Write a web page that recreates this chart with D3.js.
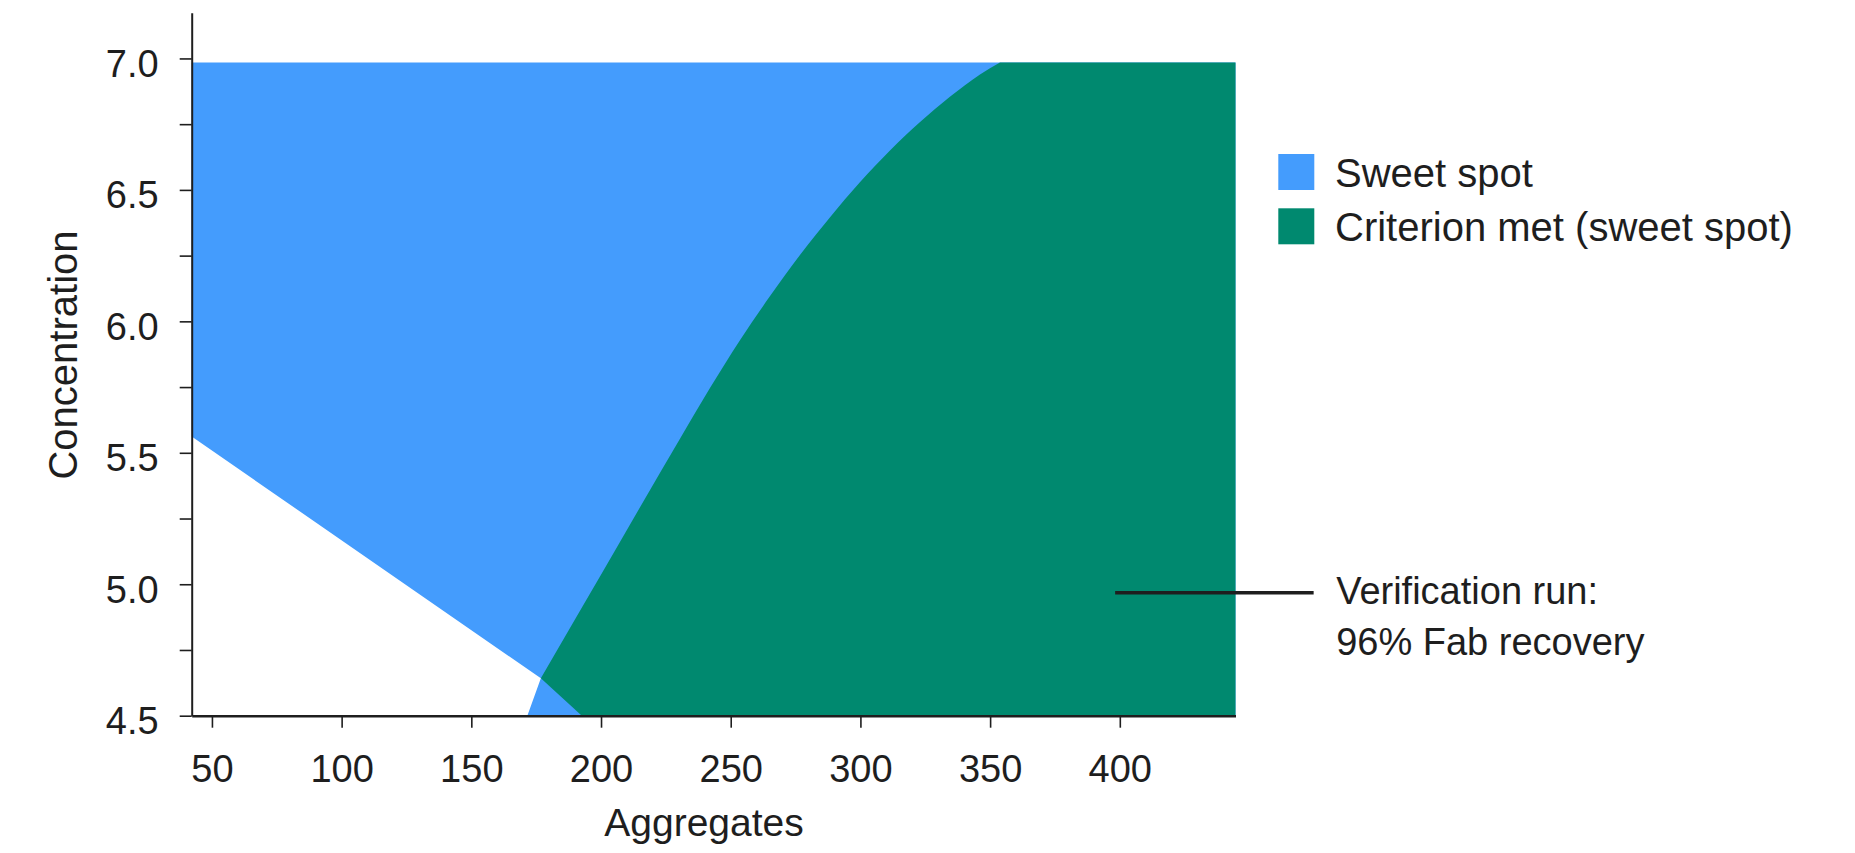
<!DOCTYPE html>
<html>
<head>
<meta charset="utf-8">
<script src="https://cdn.jsdelivr.net/npm/d3@7"></script>
<style>
  html, body { margin: 0; padding: 0; background: #fff; }
  svg { display: block; }
  text { font-family: "Liberation Sans", Arial, sans-serif; fill: #1e1e1e; }
</style>
</head>
<body>
<svg id="chart" width="1855" height="853"></svg>
<script>
// ---- data ----
const aggDomain = [42.2, 444.6];
const concDomain = [4.5, 7.174];
const xTickValues = [50, 100, 150, 200, 250, 300, 350, 400];
const yTickValues = [4.5, 4.75, 5.0, 5.25, 5.5, 5.75, 6.0, 6.25, 6.5, 6.75, 7.0];
const yLabelValues = [4.5, 5.0, 5.5, 6.0, 6.5, 7.0];

// Sweet spot region outline (Aggregates, Concentration)
const sweetAgg  = [42.2, 444.6, 444.6, 171.6, 176.8, 42.2];
const sweetConc = [6.985, 6.985, 4.5, 4.5, 4.642, 5.562];

// Criterion-met boundary curve (from lower kink to top edge)
const critCurveAgg  = [176.8, 191.9, 207.3, 222.7, 230.5, 242.0, 253.5, 265.1, 276.7, 288.3, 299.8, 311.4, 323.0, 334.5, 346.1, 353.8];
const critCurveConc = [4.642, 4.899, 5.161, 5.423, 5.554, 5.746, 5.927, 6.095, 6.252, 6.396, 6.529, 6.650, 6.758, 6.854, 6.939, 6.985];
// remaining corners of criterion region
const critCornerAgg  = [444.6, 444.6, 192.6];
const critCornerConc = [6.985, 4.5, 4.5];

const legendLabels = ["Sweet spot", "Criterion met (sweet spot)"];
const legendColors = ["#449cfd", "#00896f"];

const annotationAgg = 398.2;
const annotationConc = 4.968;
const annotationLines = ["Verification run:", "96% Fab recovery"];

// ---- layout ----
const svg = d3.select("#chart");
const plotL = 191.7, plotR = 1235.5, plotT = 12.7, plotB = 715.7;

const x = d3.scaleLinear().domain(aggDomain).range([plotL, plotR]);
const y = d3.scaleLinear().domain(concDomain).range([plotB, plotT]);

// Regions
const sweetPts = sweetAgg.map((a, i) => [x(a), y(sweetConc[i])]);
svg.append("path")
  .attr("d", d3.line()(sweetPts) + "Z")
  .attr("fill", legendColors[0]);

const curvePts = critCurveAgg.map((a, i) => [x(a), y(critCurveConc[i])]);
const cornerPts = critCornerAgg.map((a, i) => [x(a), y(critCornerConc[i])]);
const curveD = d3.line().curve(d3.curveMonotoneX)(curvePts);
const cornerD = cornerPts.map(p => "L" + p[0] + "," + p[1]).join("");
svg.append("path")
  .attr("d", curveD + cornerD + "Z")
  .attr("fill", legendColors[1]);

// Axes
const axisColor = "#1e1e1e";
const yAxis = d3.axisLeft(y)
  .tickValues(yTickValues)
  .tickSize(12)
  .tickSizeOuter(0)
  .tickPadding(21)
  .tickFormat(d => yLabelValues.some(v => Math.abs(v - d) < 1e-9) ? d3.format(".1f")(d) : "");
const gy = svg.append("g").attr("transform", `translate(${plotL},0)`).call(yAxis);
gy.select(".domain").attr("stroke", axisColor).attr("stroke-width", 2);
gy.selectAll(".tick line").attr("stroke", axisColor).attr("stroke-width", 1.6);
gy.selectAll(".tick text")
  .attr("dy", null)
  .attr("y", 18)
  .style("font-size", "38px").style("font-family", "Liberation Sans, Arial, sans-serif")
  .attr("fill", "#1e1e1e");

const xAxis = d3.axisBottom(x)
  .tickValues(xTickValues)
  .tickSize(12)
  .tickSizeOuter(0)
  .tickFormat(d3.format("d"));
const gx = svg.append("g").attr("transform", `translate(0,${plotB})`).call(xAxis);
gx.select(".domain").attr("stroke", axisColor).attr("stroke-width", 2.5);
gx.selectAll(".tick line").attr("stroke", axisColor).attr("stroke-width", 1.6);
gx.selectAll(".tick text")
  .attr("dy", null)
  .attr("y", 66)
  .style("font-size", "38px").style("font-family", "Liberation Sans, Arial, sans-serif")
  .attr("fill", "#1e1e1e");

// Axis titles
svg.append("text")
  .attr("x", 704).attr("y", 836)
  .attr("text-anchor", "middle")
  .style("font-size", "39px")
  .text("Aggregates");

svg.append("text")
  .attr("transform", "translate(77.3,355) rotate(-90)")
  .attr("text-anchor", "middle")
  .style("font-size", "40px")
  .text("Concentration");

// Legend
const legend = svg.append("g");
legendLabels.forEach((lab, i) => {
  const yy = 154 + i * 54.3;
  legend.append("rect")
    .attr("x", 1278.3).attr("y", yy)
    .attr("width", 36).attr("height", 36)
    .attr("fill", legendColors[i]);
  legend.append("text")
    .attr("x", 1335).attr("y", yy + 33)
    .style("font-size", "40px")
    .text(lab);
});

// Annotation
const ax = x(annotationAgg), ay = y(annotationConc);
svg.append("line")
  .attr("x1", ax).attr("y1", ay)
  .attr("x2", ax + 198.5).attr("y2", ay)
  .attr("stroke", "#1e1e1e").attr("stroke-width", 3.5);
annotationLines.forEach((t, i) => {
  svg.append("text")
    .attr("x", ax + 221).attr("y", ay + 11 + i * 51.5)
    .style("font-size", "38px")
    .text(t);
});
</script>
</body>
</html>
